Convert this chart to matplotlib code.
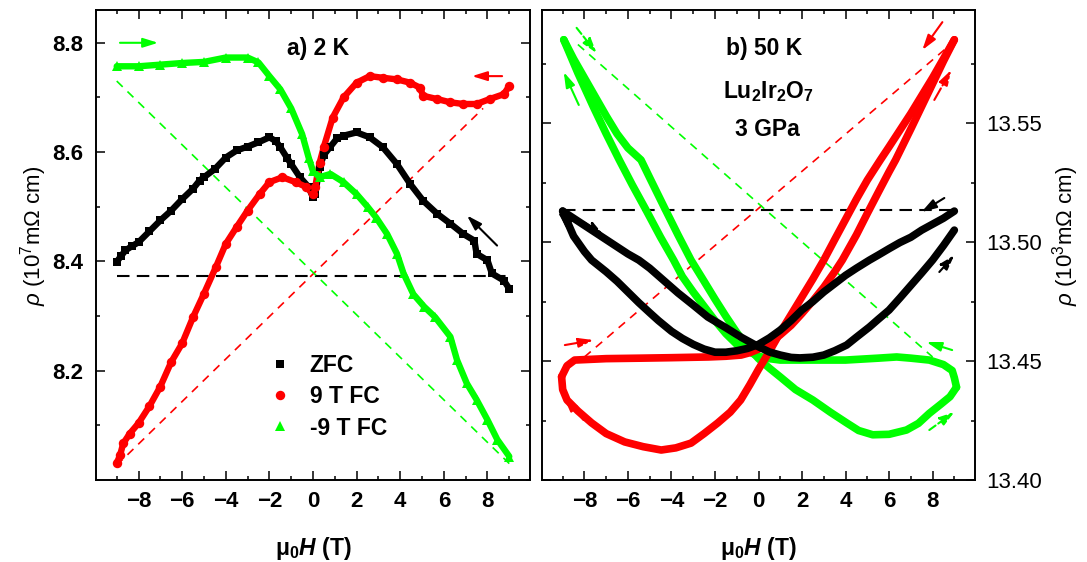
import matplotlib
matplotlib.use('Agg')
import matplotlib.pyplot as plt
from matplotlib.ticker import MultipleLocator, FixedLocator, FormatStrFormatter

plt.rcParams['font.family'] = ['Liberation Sans', 'DejaVu Sans']
plt.rcParams['mathtext.fontset'] = 'custom'
plt.rcParams['mathtext.rm'] = 'Liberation Sans'
plt.rcParams['mathtext.it'] = 'Liberation Sans:italic'
plt.rcParams['mathtext.bf'] = 'Liberation Sans:bold'
plt.rcParams['mathtext.bfit'] = 'Liberation Sans:italic:bold'
plt.rcParams['axes.unicode_minus'] = True

# ---------------- panel a) 2 K ----------------
zfc_h = [-9.0, -8.8, -8.6, -8.3, -8.0, -7.5, -7.0, -6.5, -6.0, -5.5, -5.2, -5.0, -4.5, -4.0,
         -3.5, -3.0, -2.5, -2.0, -1.7, -1.5, -1.2, -1.0, -0.6, -0.2, 0.0, 0.1, 0.3, 0.5, 0.8,
         1.1, 1.4, 2.0, 2.6, 3.2, 3.85, 4.45, 5.05, 5.7, 6.3, 6.9, 7.4, 7.5, 8.0, 8.2, 8.75, 9.0]
zfc_rho = [8.399, 8.41, 8.42, 8.428, 8.435, 8.455, 8.475, 8.493, 8.514, 8.533, 8.548, 8.554,
           8.569, 8.59, 8.603, 8.61, 8.618, 8.627, 8.62, 8.609, 8.59, 8.578, 8.554, 8.536,
           8.517, 8.523, 8.572, 8.595, 8.61, 8.625, 8.63, 8.636, 8.627, 8.609, 8.578, 8.542,
           8.511, 8.487, 8.469, 8.45, 8.438, 8.414, 8.402, 8.378, 8.365, 8.35]

fc9_h = [-9.0, -8.85, -8.7, -8.4, -8.0, -7.5, -7.0, -6.5, -6.0, -5.5, -5.0, -4.45, -4.0, -3.5,
         -3.0, -2.45, -2.0, -1.4, -0.8, -0.3, 0.0, 0.1, 0.3, 0.5, 0.9, 1.4, 2.0, 2.6, 3.2, 3.85,
         4.45, 4.9, 5.05, 5.7, 6.3, 6.9, 7.5, 8.1, 8.75, 9.0]
fc9_rho = [8.031, 8.045, 8.067, 8.085, 8.104, 8.135, 8.171, 8.216, 8.25, 8.298, 8.341, 8.39,
           8.432, 8.463, 8.493, 8.523, 8.545, 8.554, 8.545, 8.536, 8.523, 8.536, 8.58, 8.61,
           8.663, 8.70, 8.727, 8.739, 8.736, 8.733, 8.727, 8.718, 8.703, 8.697, 8.691, 8.688,
           8.688, 8.697, 8.706, 8.721]

fcm9_h = [-9.0, -8.0, -7.0, -6.0, -5.0, -4.0, -3.0, -2.5, -2.0, -1.5, -1.0, -0.5, -0.2, 0.0,
          0.3, 0.8, 1.4, 2.0, 2.5, 2.9, 3.4, 3.85, 4.15, 4.6, 5.1, 5.6, 6.3, 6.6, 7.05, 7.5,
          8.0, 8.45, 9.0]
fcm9_rho = [8.757, 8.757, 8.760, 8.763, 8.765, 8.773, 8.773, 8.764, 8.739, 8.715, 8.68, 8.633,
            8.59, 8.565, 8.554, 8.56, 8.545, 8.523, 8.50, 8.48, 8.45, 8.414, 8.378, 8.34,
            8.317, 8.298, 8.262, 8.22, 8.177, 8.147, 8.11, 8.074, 8.043]

ref_a_black = ([-9.0, 9.0], [8.374, 8.374])
ref_a_red = ([-9.0, 7.8], [8.027, 8.68])
ref_a_green = ([-9.0, 9.0], [8.73, 8.03])

# ---------------- panel b) 50 K ----------------
black_down_h = [9.0, 8.5, 8.0, 7.5, 7.0, 6.5, 6.0, 5.5, 5.1, 4.5, 4.0, 3.5, 3.0, 2.5, 2.0,
                1.5, 1.0, 0.5, 0.0, -0.5, -1.0, -1.5, -2.0, -2.5, -3.0, -3.5, -4.0, -4.6,
                -5.0, -5.5, -6.0, -6.5, -7.0, -7.67, -8.0, -8.5, -9.0]
black_down_rho = [13.513, 13.510, 13.5075, 13.505, 13.502, 13.4998, 13.4972, 13.4945,
                  13.4924, 13.489, 13.486, 13.4825, 13.479, 13.475, 13.4715, 13.467, 13.463,
                  13.4597, 13.457, 13.4553, 13.4543, 13.4537, 13.4537, 13.455, 13.457,
                  13.4595, 13.4625, 13.467, 13.4703, 13.4745, 13.479, 13.4835, 13.4875,
                  13.4924, 13.496, 13.5025, 13.513]
black_up_h = [-9.0, -8.5, -8.0, -7.5, -7.0, -6.5, -6.0, -5.5, -5.0, -4.5, -4.0, -3.7, -3.0,
              -2.33, -1.5, -0.8, 0.0, 0.5, 1.0, 1.5, 1.9, 2.5, 3.0, 3.5, 4.05, 4.5, 5.1, 5.5,
              6.0, 6.5, 7.1, 7.5, 8.0, 8.5, 9.0]
black_up_rho = [13.513, 13.510, 13.507, 13.504, 13.501, 13.498, 13.495, 13.4924, 13.489,
                13.485, 13.481, 13.4786, 13.4735, 13.4685, 13.464, 13.460, 13.456, 13.4538,
                13.4525, 13.4515, 13.4513, 13.4516, 13.4525, 13.4543, 13.4567, 13.460,
                13.4643, 13.4675, 13.4714, 13.4765, 13.4828, 13.487, 13.4924, 13.4985,
                13.505]

red_down_h = [9.0, 8.5, 8.0, 7.5, 7.0, 6.5, 6.0, 5.6, 5.0, 4.5, 4.0, 3.5, 3.0, 2.5, 2.0, 1.5,
              1.0, 0.5, 0.0, -0.4, -0.82, -1.3, -1.87, -2.5, -3.1, -3.8, -4.47, -5.3, -6.15,
              -7.0, -7.67, -8.3, -8.8, -9.0, -9.05]
red_down_rho = [13.585, 13.577, 13.569, 13.5615, 13.554, 13.547, 13.540, 13.5345, 13.526,
                13.518, 13.5095, 13.501, 13.4924, 13.4845, 13.477, 13.4695, 13.462, 13.454,
                13.4465, 13.440, 13.4336, 13.4285, 13.424, 13.4195, 13.4155, 13.4135,
                13.4126, 13.414, 13.416, 13.4195, 13.424, 13.429, 13.4336, 13.438, 13.4434]
red_up_h = [-9.05, -8.8, -8.45, -7.0, -5.4, -4.0, -2.3, -1.5, -0.8, -0.4, 0.0, 0.5, 1.0, 1.5,
            2.0, 2.5, 3.0, 3.5, 3.85, 4.5, 5.0, 5.5, 6.0, 6.3, 7.0, 7.5, 8.0, 8.5, 9.0]
red_up_rho = [13.4434, 13.448, 13.4504, 13.451, 13.4512, 13.4514, 13.4517, 13.452, 13.4525,
              13.4535, 13.455, 13.4575, 13.461, 13.465, 13.470, 13.4753, 13.481, 13.4875,
              13.4924, 13.503, 13.512, 13.5208, 13.5295, 13.5345, 13.5475, 13.557, 13.5665,
              13.576, 13.585]

green_down_h = [9.1, 9.0, 8.9, 8.5, 7.85, 7.0, 6.35, 5.5, 4.0, 2.5, 1.0, 0.5, 0.0, -0.5,
                -1.0, -1.5, -2.0, -2.5, -3.0, -3.5, -3.9, -4.5, -5.2, -5.8, -6.4, -7.0, -7.6,
                -8.3, -8.95]
green_down_rho = [13.439, 13.443, 13.446, 13.4485, 13.4504, 13.4512, 13.4517, 13.4512,
                  13.4504, 13.4504, 13.4504, 13.451, 13.452, 13.4542, 13.457, 13.4615, 13.467,
                  13.473, 13.479, 13.4855, 13.4924, 13.502, 13.514, 13.524, 13.5345, 13.5455,
                  13.557, 13.571, 13.585]
green_up_h = [-8.95, -8.5, -8.0, -7.5, -7.0, -6.5, -6.0, -5.4, -5.0, -4.3, -3.7, -3.1, -2.5,
              -2.0, -1.5, -1.0, -0.5, 0.0, 0.5, 1.0, 1.7, 2.5, 3.3, 4.05, 4.6, 5.25, 6.0, 6.8,
              7.35, 7.85, 8.4, 8.8, 9.1]
green_up_rho = [13.585, 13.577, 13.569, 13.561, 13.553, 13.5455, 13.5395, 13.5345, 13.527,
                13.514, 13.503, 13.4924, 13.4835, 13.476, 13.4688, 13.462, 13.456, 13.451,
                13.447, 13.4433, 13.438, 13.4336, 13.4285, 13.424, 13.4208, 13.419, 13.4192,
                13.421, 13.4238, 13.428, 13.432, 13.435, 13.439]

ref_b_black = ([-9.0, 9.0], [13.5136, 13.5136])
ref_b_red = ([-8.0, 8.7], [13.4517, 13.582])
ref_b_green = ([-8.3, 8.0], [13.583, 13.4517])

xticks = [-8, -6, -4, -2, 0, 2, 4, 6, 8]
yticks_a = [8.2, 8.4, 8.6, 8.8]
yticks_b = [13.40, 13.45, 13.50, 13.55]

BLACK = '#000000'
RED = '#ff0000'
GREEN = '#00ff00'

# arrows: (tail, head, color, linestyle)
arrows_a = [((-8.85, 8.80), (-7.1, 8.80), GREEN, '-'),
            ((8.67, 8.739), (7.29, 8.739), RED, '-'),
            ((8.44, 8.429), (7.06, 8.484), BLACK, '-')]
arrows_b = [((-8.36, 13.590), (-7.44, 13.5794), GREEN, '--'),
            ((-8.26, 13.5576), (-8.95, 13.5714), GREEN, '-'),
            ((8.45, 13.5924), (7.53, 13.5807), RED, '-'),
            ((8.08, 13.5597), (8.86, 13.5723), RED, '-.'),
            ((-8.9, 13.4567), (-7.58, 13.4588), RED, '-.'),
            ((-8.04, 13.4252), (-8.95, 13.4349), RED, '-'),
            ((8.9, 13.4546), (7.72, 13.458), GREEN, '-'),
            ((7.85, 13.421), (9.0, 13.4286), GREEN, '--'),
            ((-8.58, 13.5067), (-9.22, 13.5126), BLACK, '-'),
            ((-8.04, 13.5084), (-7.12, 13.503), BLACK, '--'),
            ((8.54, 13.5185), (7.49, 13.5126), BLACK, '-'),
            ((8.31, 13.4874), (9.0, 13.4945), BLACK, '--')]

TICK_FS = 16
TEXT_FS = 16.5
LABEL_FS = 16

W, H = 1087, 562
fig = plt.figure(figsize=(W / 100, H / 100), dpi=100)
ax1 = fig.add_axes([96 / W, 82 / H, 434 / W, 470 / H])
ax2 = fig.add_axes([542 / W, 82 / H, 433 / W, 470 / H])


def style_axes(ax):
    for sp in ax.spines.values():
        sp.set_linewidth(1.4)
    ax.set_xlim(-9.95, 9.95)
    ax.xaxis.set_major_locator(FixedLocator(xticks))
    ax.xaxis.set_minor_locator(MultipleLocator(1))
    ax.tick_params(which='both', direction='in', top=True, bottom=True, left=True, right=True,
                   width=1.1)
    ax.tick_params(which='major', length=6.5, labelsize=TICK_FS)
    ax.tick_params(which='minor', length=3.2)
    ax.tick_params(axis='x', pad=8)
    for lab in ax.get_xticklabels() + ax.get_yticklabels():
        lab.set_fontweight('bold')


def add_arrows(ax, arrows):
    for tail, head, c, ls in arrows:
        ax.annotate('', xy=head, xytext=tail,
                    arrowprops=dict(arrowstyle='-|>,head_length=0.9,head_width=0.28',
                                    color=c, lw=1.5, linestyle=ls, shrinkA=0, shrinkB=0,
                                    mutation_scale=10))


# ---- panel a ----
ax1.plot(*ref_a_black, color=BLACK, ls=(0, (6, 3.5)), lw=1.5)
ax1.plot(*ref_a_red, color=RED, ls=(0, (5, 4)), lw=1.2)
ax1.plot(*ref_a_green, color=GREEN, ls=(0, (5, 4)), lw=1.2)
for hh, rr, c in [(zfc_h, zfc_rho, BLACK), (fc9_h, fc9_rho, RED), (fcm9_h, fcm9_rho, GREEN)]:
    ax1.plot(hh, rr, '-', color=c, lw=4.6, solid_joinstyle='round', solid_capstyle='round')
ax1.plot(zfc_h, zfc_rho, 's', color=BLACK, ms=5.8, mew=0, label='ZFC')
ax1.plot(fc9_h, fc9_rho, 'o', color=RED, ms=6.8, mew=0, label='9 T FC')
ax1.plot(fcm9_h, fcm9_rho, '^', color=GREEN, ms=7.4, mew=0, label='-9 T FC')
ax1.set_ylim(8.0, 8.86)
ax1.yaxis.set_major_locator(FixedLocator(yticks_a))
ax1.yaxis.set_minor_locator(MultipleLocator(0.1))
ax1.yaxis.set_major_formatter(FormatStrFormatter('%.1f'))
style_axes(ax1)
ax1.tick_params(axis='y', pad=9)
add_arrows(ax1, arrows_a)
ax1.text(0.5115, 0.919, 'a) 2 K', transform=ax1.transAxes, ha='center', va='center',
         fontsize=TEXT_FS, fontweight='bold')
h_leg, l_leg = ax1.get_legend_handles_labels()
ax1.legend(h_leg[-3:], l_leg[-3:], loc='center left', bbox_to_anchor=(0.3975, 0.1766),
           frameon=False, prop={'weight': 'bold', 'size': TEXT_FS}, handlelength=1.0,
           handletextpad=0.8, borderpad=0, borderaxespad=0, labelspacing=0.35, numpoints=1)
ax1.set_xlabel(r'$\mathbf{\mu_0}\mathbfit{H}$ (T)', fontsize=TEXT_FS, fontweight='bold',
               va='center')
ax1.xaxis.set_label_coords(0.5, -0.145)
ax1.set_ylabel(r'$\rho$ (10$^7$mΩ cm)', fontsize=LABEL_FS, va='center')
ax1.yaxis.set_label_coords(-0.143, 0.52)

# ---- panel b ----
ax2.plot(*ref_b_black, color=BLACK, ls=(0, (6, 3.5)), lw=1.5)
ax2.plot(*ref_b_red, color=RED, ls=(0, (5, 4)), lw=1.2)
ax2.plot(*ref_b_green, color=GREEN, ls=(0, (5, 4)), lw=1.2)
for hh, rr, c in [(green_down_h, green_down_rho, GREEN), (green_up_h, green_up_rho, GREEN),
                  (red_down_h, red_down_rho, RED), (red_up_h, red_up_rho, RED),
                  (black_down_h, black_down_rho, BLACK), (black_up_h, black_up_rho, BLACK)]:
    ax2.plot(hh, rr, color=c, lw=5.5, solid_capstyle='round', solid_joinstyle='round')
ax2.set_ylim(13.40, 13.5975)
ax2.yaxis.set_major_locator(FixedLocator(yticks_b))
ax2.yaxis.set_minor_locator(MultipleLocator(0.025))
ax2.yaxis.set_major_formatter(FormatStrFormatter('%.2f'))
style_axes(ax2)
ax2.tick_params(axis='y', labelleft=False, labelright=True, pad=8)
add_arrows(ax2, arrows_b)
ax2.text(0.513, 0.919, 'b) 50 K', transform=ax2.transAxes, ha='center', va='center',
         fontsize=TEXT_FS, fontweight='bold')
ax2.text(0.522, 0.826, r'Lu$_\mathbf{2}$Ir$_\mathbf{2}$O$_\mathbf{7}$', transform=ax2.transAxes,
         ha='center', va='center', fontsize=TEXT_FS, fontweight='bold')
ax2.text(0.520, 0.745, '3 GPa', transform=ax2.transAxes, ha='center', va='center',
         fontsize=TEXT_FS, fontweight='bold')
ax2.set_xlabel(r'$\mathbf{\mu_0}\mathbfit{H}$ (T)', fontsize=TEXT_FS, fontweight='bold',
               va='center')
ax2.xaxis.set_label_coords(0.5, -0.145)
ax2.yaxis.set_label_position('right')
ax2.set_ylabel(r'$\rho$ (10$^3$mΩ cm)', fontsize=LABEL_FS, va='center', rotation=90)
ax2.yaxis.set_label_coords(1.21, 0.52)

fig.savefig('out.png', dpi=100)
